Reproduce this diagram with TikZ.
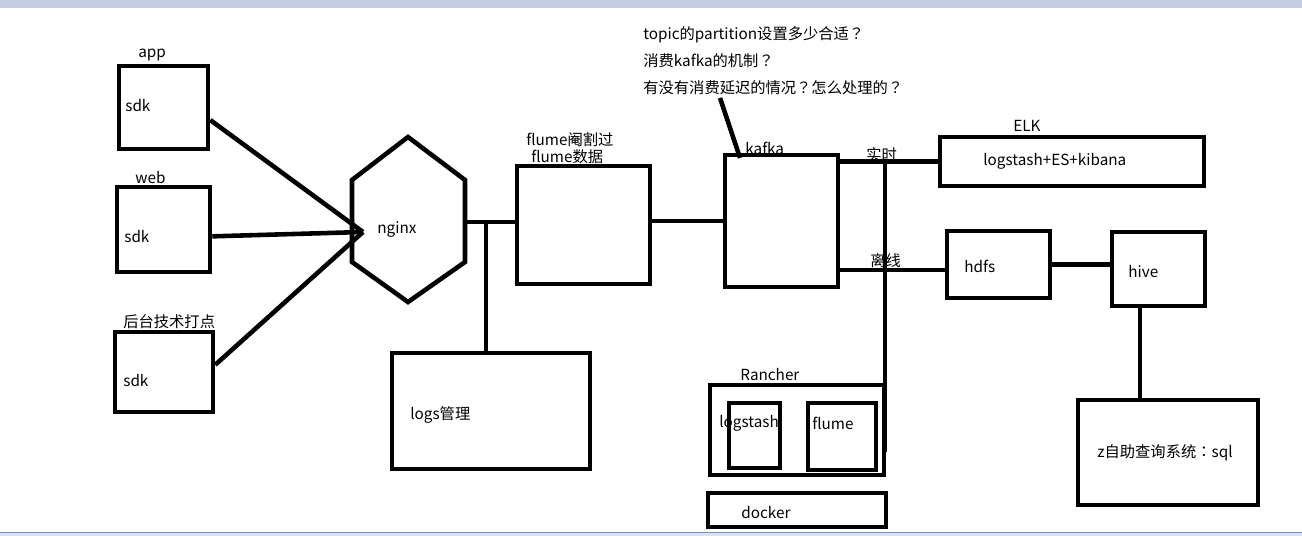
\documentclass[tikz,border=0pt]{standalone}
\usepackage{fontspec}
\setmainfont{Noto Sans CJK SC}
\newfontfamily\punctfont{Noto Sans CJK JP}
\newcommand{\qmark}{{\punctfont ？}}
\newcommand{\cmark}{{\punctfont ：}}
\usepackage{tikz}
\usetikzlibrary{shapes.geometric, arrows}
\definecolor{barblue}{RGB}{197,206,224}
\definecolor{lineblue}{RGB}{110,150,195}
\tikzstyle{box} = [rectangle, draw=black, line width=2.6pt, inner sep=0pt]
\tikzstyle{line} = [line width=2.6pt]
\tikzstyle{txt} = [font=\fontsize{8.7}{10}\selectfont, inner sep=0pt, anchor=west]

\begin{document}
\begin{tikzpicture}[x=0.02cm, y=-0.02cm]
		\useasboundingbox (0,0) rectangle (1302,536);
		\fill [barblue] (0,0) rectangle (1302,8);
		\fill [barblue!60] (0,532) rectangle (1302,536);
		\draw [lineblue, line width=0.5pt] (0,532) -- (1302,532);
		% sources
		\node (app) [box, minimum width=1.78cm, minimum height=1.66cm] at (163.5,107.5) {};
		\node (web) [box, minimum width=1.86cm, minimum height=1.70cm] at (163.5,229.5) {};
		\node (back) [box, minimum width=1.96cm, minimum height=1.60cm] at (164,372) {};
		\node [txt] at (138,55) {app};
		\node [txt] at (125,106) {sdk};
		\node [txt] at (135,178) {web};
		\node [txt] at (124,237) {sdk};
		\node [txt] at (123,322) {后台技术打点};
		\node [txt] at (123,381) {sdk};
		% nginx
		\draw [line] (408,137) -- (465,180) -- (465,262) -- (408,302) -- (352,262) -- (352,180) -- cycle;
		\node (nginx) [txt] at (377,229) {nginx};
		\coordinate (nginxin) at (363,232);
		\coordinate (nginxout) at (465,222);
		\draw [line] (app.-15) -- (nginxin);
		\draw [line] (web.-8) -- (nginxin);
		\draw [line] (back.8) -- (nginxin);
		% flume / logs
		\node (flume) [box, minimum width=2.66cm, minimum height=2.36cm] at (583.5,225) {};
		\node [txt] at (526,140) {flume阉割过};
		\node [txt] at (531,157) {flume数据};
		\node (logs) [box, minimum width=3.96cm, minimum height=2.32cm] at (491,411) {};
		\node [txt] at (410,415) {logs管理};
		\coordinate (tee) at (486,222);
		\draw [line] (nginxout) -- (nginxout -| flume.west);
		\draw [line] (tee) -- (tee |- logs.north);
		% kafka
		\node (kafka) [box, minimum width=2.26cm, minimum height=2.64cm] at (781.5,221) {};
		\node [txt] at (745,148) {kafka};
		\draw [line] (kafka.west -| flume.east) -- (kafka.west);
		\node (q1) [txt] at (643,35) {topic的partition设置多少合适\qmark};
		\node (q2) [txt] at (643,61) {消费kafka的机制\qmark};
		\node (q3) [txt] at (643,88) {有没有消费延迟的情况\qmark 怎么处理的\qmark};
		\coordinate (qa) at (720,98);
		\coordinate (qb) at (740,158);
		\draw [line] (qa) -- (qb);
		% outputs
		\node (elk) [box, minimum width=5.28cm, minimum height=0.98cm] at (1072,161.5) {};
		\node [txt] at (1013,126) {ELK};
		\node [txt] at (983,161) {logstash+ES+kibana};
		\node (hdfs) [box, minimum width=2.06cm, minimum height=1.34cm] at (998.5,264.5) {};
		\node [txt] at (964,266) {hdfs};
		\node (hive) [box, minimum width=1.86cm, minimum height=1.48cm] at (1158.5,269) {};
		\node [txt] at (1128,272) {hive};
		\node (zq) [box, minimum width=3.60cm, minimum height=2.10cm] at (1168,452.5) {};
		\node [txt] at (1097,453) {z自助查询系统\cmark sql};
		\draw [line] (elk.west -| kafka.east) -- (elk.west);
		\draw [line] (hdfs.-174 -| kafka.east) -- (hdfs.-174);
		\node [txt] at (866,155) {实时};
		\node [txt] at (870,261) {离线};
		\draw [line] (hdfs.east) -- (hdfs.east -| hive.west);
		\draw [line] (hive.-115) -- (hive.-115 |- zq.north);
		% rancher / docker
		\node (rancher) [box, minimum width=3.48cm, minimum height=1.80cm] at (797,430) {};
		\node [txt] at (740,375) {Rancher};
		\node (lsin) [box, minimum width=1.02cm, minimum height=1.30cm] at (754.5,435.5) {};
		\node (flin) [box, minimum width=1.36cm, minimum height=1.34cm] at (842,436.5) {};
		\node [txt] at (719,423) {logstash};
		\node [txt] at (812,423) {flume};
		\node (docker) [box, minimum width=3.56cm, minimum height=0.68cm] at (797,510) {};
		\node [txt] at (741,513) {docker};
		\coordinate (vtop) at (885,162);
		\coordinate (vbot) at (885,452);
		\draw [line] (vtop) -- (vbot);
\end{tikzpicture}
\end{document}
